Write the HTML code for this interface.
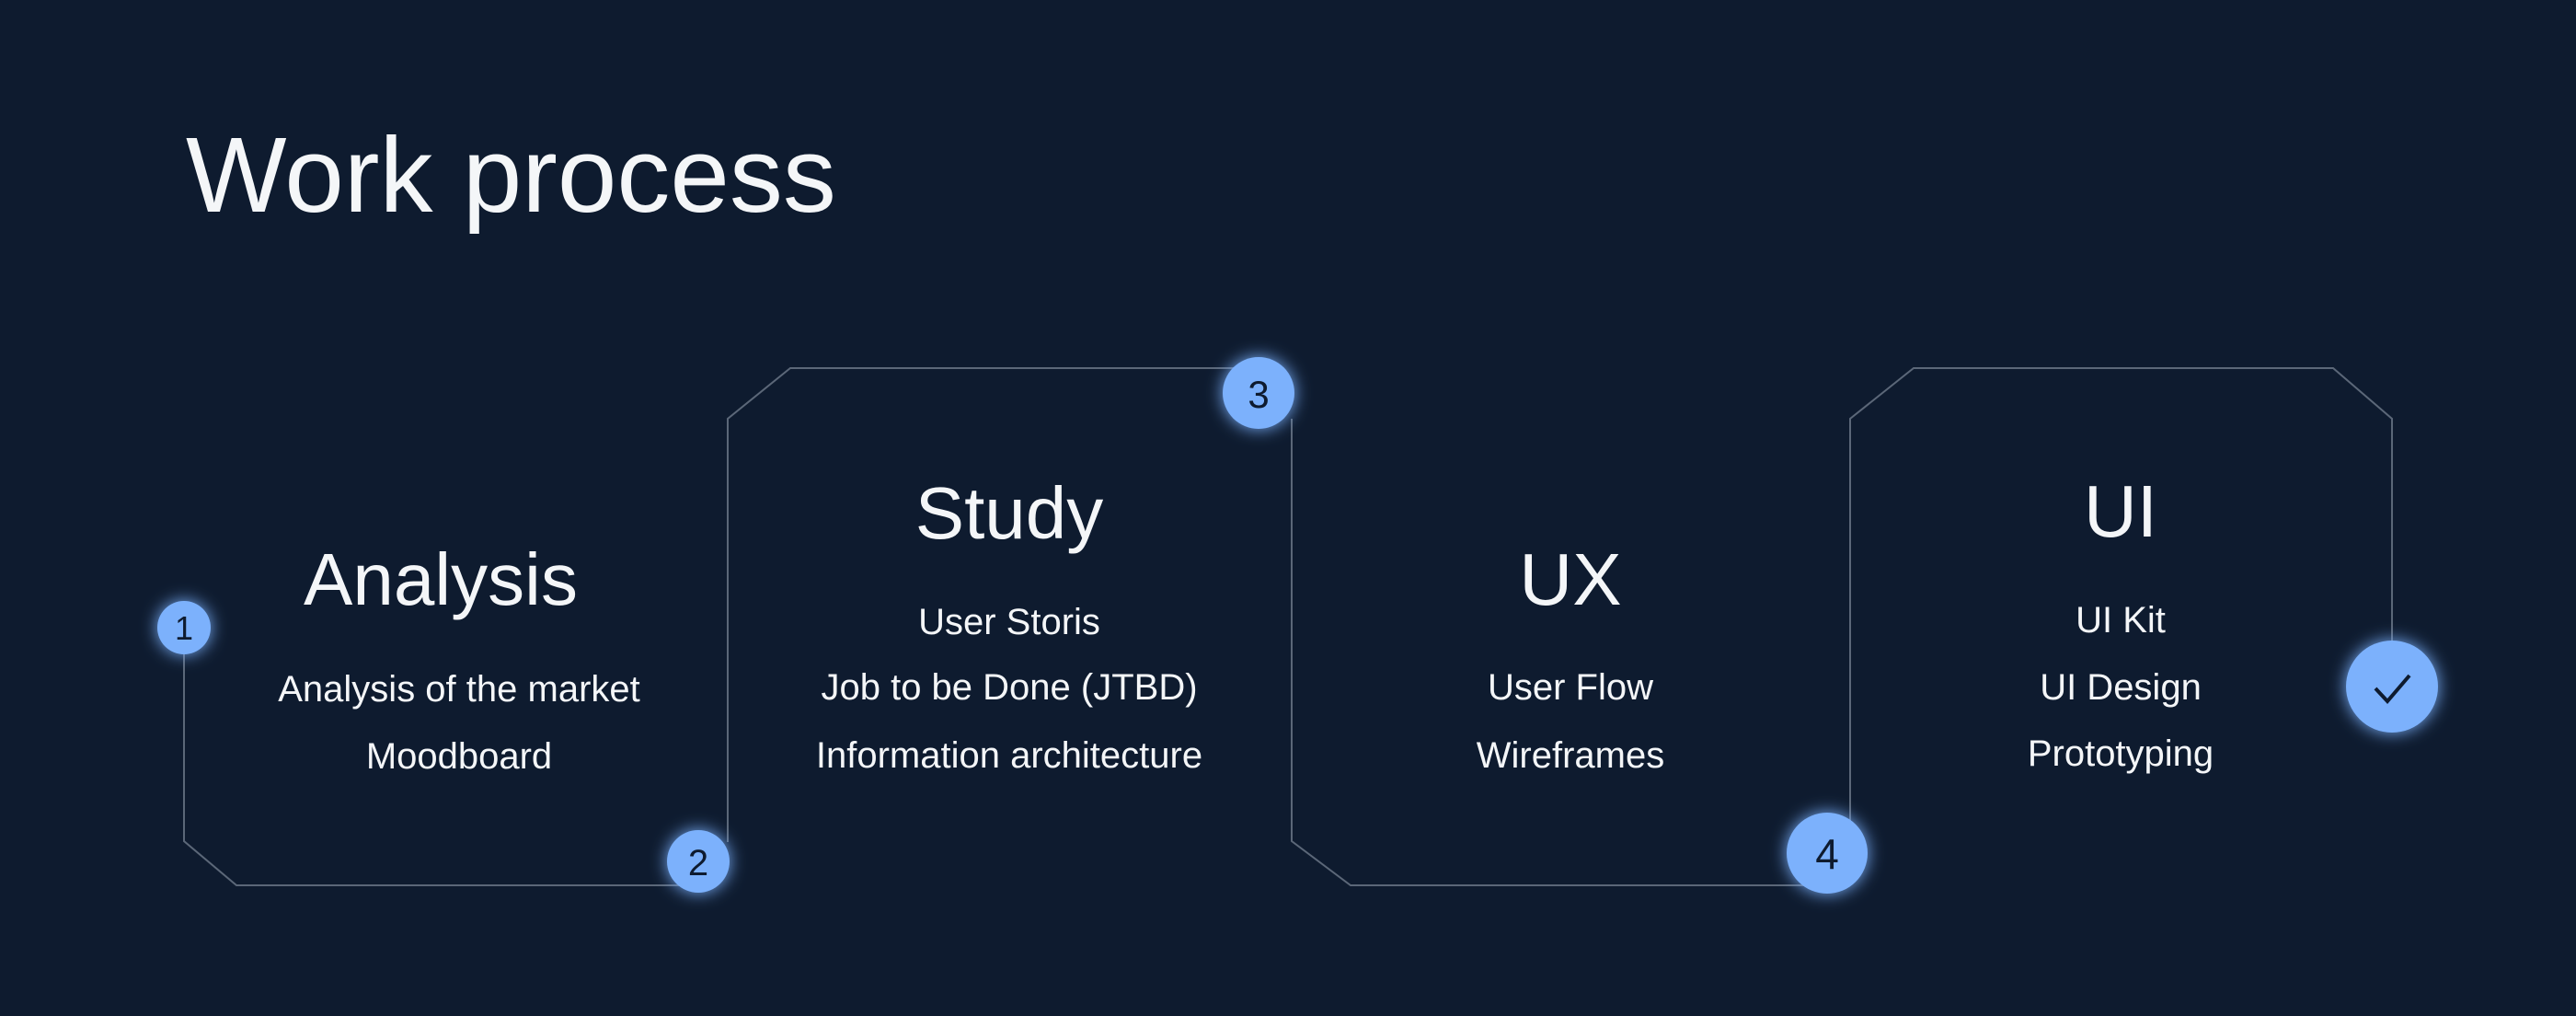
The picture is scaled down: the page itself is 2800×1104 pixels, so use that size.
<!DOCTYPE html>
<html><head><meta charset="utf-8"><style>
html,body{margin:0;padding:0;background:#0e1b2f;}
body{width:2800px;height:1104px;overflow:hidden;position:relative;font-family:"Liberation Sans",sans-serif;}
svg{position:absolute;left:0;top:0;}
</style></head><body>
<svg width="2800" height="1104" viewBox="0 0 2800 1104">
<defs>
<filter id="g" x="-100%" y="-100%" width="300%" height="300%">
<feGaussianBlur in="SourceGraphic" stdDeviation="9" result="b"/>
<feMerge><feMergeNode in="b"/><feMergeNode in="SourceGraphic"/></feMerge>
</filter>
</defs>
<rect width="2800" height="1104" fill="#0e1b2f"/>
<g fill="none" stroke="#5b6778" stroke-width="2">
<polyline points="200,682 200,914 257,962 759,962"/>
<polyline points="791,915 791,455 859,400 1368,400"/>
<polyline points="1404,455 1404,914 1468,962 1986,962"/>
<polyline points="2011,900 2011,455 2080,400 2536,400 2600,455 2600,746"/>
</g>
<g fill="#7cb1fc" filter="url(#g)">
<circle cx="200" cy="682" r="29"/>
<circle cx="759" cy="936" r="34"/>
<circle cx="1368" cy="427" r="39"/>
<circle cx="1986" cy="927" r="44"/>
<circle cx="2600" cy="746" r="50"/>
</g>
<g fill="#0e1b2f" font-family="Liberation Sans, sans-serif" text-anchor="middle">
<text x="200" y="695" font-size="36">1</text>
<text x="759" y="951" font-size="40">2</text>
<text x="1368" y="443" font-size="42">3</text>
<text x="1986" y="944" font-size="46">4</text>
</g>
<polyline points="2582,748 2595,762 2619,734" fill="none" stroke="#0e1b2f" stroke-width="4"/>
<g fill="#f4f6f8" font-family="Liberation Sans, sans-serif" text-anchor="middle">
<text x="202" y="230" font-size="116" text-anchor="start">Work process</text>
<text x="479" y="657" font-size="80">Analysis</text>
<text x="499" y="762" font-size="40">Analysis of the market</text>
<text x="499" y="835" font-size="40">Moodboard</text>
<text x="1097" y="585" font-size="80">Study</text>
<text x="1097" y="689" font-size="40">User Storis</text>
<text x="1097" y="760" font-size="40">Job to be Done (JTBD)</text>
<text x="1097" y="834" font-size="40">Information architecture</text>
<text x="1707" y="657" font-size="80">UX</text>
<text x="1707" y="760" font-size="40">User Flow</text>
<text x="1707" y="834" font-size="40">Wireframes</text>
<text x="2305" y="583" font-size="80">UI</text>
<text x="2305" y="687" font-size="40">UI Kit</text>
<text x="2305" y="760" font-size="40">UI Design</text>
<text x="2305" y="832" font-size="40">Prototyping</text>
</g>
</svg>
</body></html>
